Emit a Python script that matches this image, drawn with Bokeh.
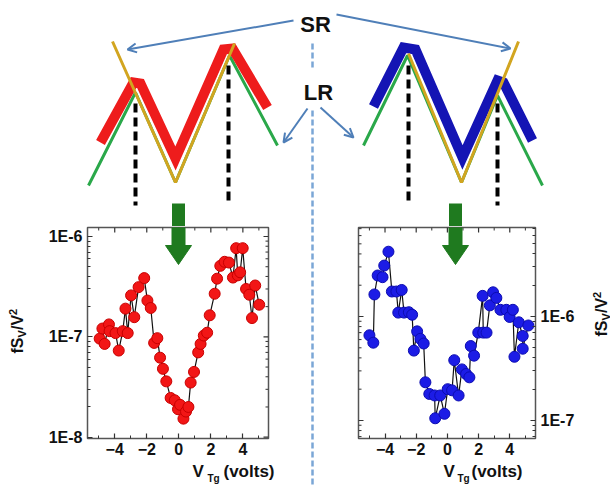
import math
from bokeh.plotting import figure
from bokeh.layouts import column, row
from bokeh.models import (Range1d, FixedTicker, CustomJSTickFormatter, LinearAxis,
                          LogAxis, Label, Arrow, OpenHead)
from bokeh.embed import file_html
from bokeh.resources import INLINE

# ---------------- data ----------------
red_v = [-4.94, -4.77, -4.63, -4.36, -4.32, -3.95, -3.75, -3.50, -3.33, -3.19,
         -2.98, -2.78, -2.51, -2.16, -1.96, -1.75, -1.54, -1.34, -1.17, -0.99,
         -0.78, -0.51, -0.25, -0.05, 0.08, 0.29, 0.45, 0.60, 0.74, 0.95,
         1.21, 1.36, 1.56, 1.77, 1.93, 2.24, 2.39, 2.59, 2.86, 3.13,
         3.38, 3.58, 3.68, 3.83, 3.99, 4.20, 4.40, 4.57, 4.77, 5.02]
red_s = [9.6e-8, 1.21e-7, 8.5e-8, 1.33e-7, 1.14e-7, 1.09e-7, 7.3e-8, 1.14e-7, 1.91e-7, 1.09e-7,
         2.59e-7, 1.57e-7, 3.13e-7, 3.85e-7, 2.3e-7, 1.94e-7, 8.7e-8, 9.7e-8, 6.2e-8, 4.8e-8,
         3.6e-8, 2.46e-8, 2.33e-8, 1.9e-8, 2.1e-8, 1.53e-8, 1.8e-8, 2.0e-8, 3.5e-8, 4.47e-8,
         7.0e-8, 8.5e-8, 1.03e-7, 1.1e-7, 1.64e-7, 2.69e-7, 3.8e-7, 5.1e-7, 5.6e-7, 5.5e-7,
         3.9e-7, 7.65e-7, 4.1e-7, 4.4e-7, 7.65e-7, 3.0e-7, 2.63e-7, 1.54e-7, 3.25e-7, 2.09e-7]

blue_v = [-5.00, -4.75, -4.68, -4.47, -4.16, -4.05, -3.78, -3.56, -3.27, -3.15,
          -2.93, -2.78, -2.47, -2.26, -2.15, -1.94, -1.73, -1.52, -1.41, -1.16,
          -0.82, -0.78, -0.46, -0.19, 0.02, 0.30, 0.44, 0.72, 0.93, 1.20,
          1.41, 1.50, 1.71, 1.98, 2.26, 2.30, 2.51, 2.72, 2.93, 3.14,
          3.40, 3.78, 3.99, 4.20, 4.30, 4.58, 4.83, 4.83, 5.19]
blue_s = [6.6e-7, 5.6e-7, 1.63e-6, 2.48e-6, 2.39e-6, 3.09e-6, 4.2e-6, 1.74e-6, 1.74e-6, 1.09e-6,
          1.8e-6, 1.09e-6, 1.1e-6, 1.04e-6, 4.7e-7, 7.2e-7, 6.1e-7, 5.5e-7, 2.33e-7, 1.8e-7,
          1.74e-7, 1.05e-7, 1.74e-7, 1.16e-7, 2.0e-7, 1.95e-7, 3.8e-7, 1.74e-7, 3.1e-7, 2.8e-7,
          2.6e-7, 5.2e-7, 4.2e-7, 7.0e-7, 1.58e-6, 7.0e-7, 7.0e-7, 1.28e-6, 1.71e-6, 1.51e-6,
          1.16e-6, 1.16e-6, 9.9e-7, 1.16e-6, 4.1e-7, 8.8e-7, 6.5e-7, 4.9e-7, 8.2e-7]

x_ticks = [-4, -2, 0, 2, 4]
x_minor = [-5, -3, -1, 1, 3, 5]
left_y_ticks = [1e-8, 1e-7, 1e-6]
right_y_ticks = [1e-7, 1e-6]
x_title = ["V", "Tg", "(volts)"]
y_title = ["fS", "V", "/V", "2"]

FONT = "Liberation Sans"
INK = "#111111"
TOP_H = 226          # schematic strip height
PLOT_BOTTOM = 463    # page y where the plot figures end
H = 485


def minor_log(lo, hi):
    out = []
    e = math.floor(math.log10(lo))
    while 10 ** e <= hi:
        for m in range(2, 10):
            v = m * 10 ** e
            if lo <= v <= hi:
                out.append(v)
        e += 1
    return out


class Geo:
    def __init__(self, L, R, T, B, xr, yr):
        self.L, self.R, self.T, self.B = L, R, T, B
        self.xr, self.yr = xr, yr

    def dx(self, px):
        return self.xr[0] + (px - self.L) / (self.R - self.L) * (self.xr[1] - self.xr[0])

    def dy(self, py):
        l0, l1 = math.log10(self.yr[0]), math.log10(self.yr[1])
        return 10 ** (l0 + (self.B - py) / (self.B - self.T) * (l1 - l0))


def blank(x0, x1, y0, y1):
    f = figure(frame_width=x1 - x0, frame_height=y1 - y0, x_range=Range1d(x0, x1),
               y_range=Range1d(y1, y0), x_axis_location=None, y_axis_location=None,
               output_backend="svg", toolbar_location=None, min_border_left=0,
               min_border_right=0, min_border_top=0, min_border_bottom=0,
               outline_line_color=None, background_fill_color="white",
               border_fill_color="white")
    f.grid.grid_line_color = None
    return f


def style_axis(ax):
    ax.axis_line_color = None
    ax.major_tick_in = 5
    ax.major_tick_out = 0
    ax.minor_tick_in = 3
    ax.minor_tick_out = 0
    ax.major_tick_line_color = "#333333"
    ax.minor_tick_line_color = "#333333"
    ax.major_tick_line_width = 1.2
    ax.minor_tick_line_width = 1
    ax.major_label_text_font = FONT
    ax.major_label_text_font_style = "bold"
    ax.major_label_text_font_size = "16px"
    ax.major_label_text_color = INK
    ax.major_label_standoff = 5


def make_plot(xs, ys, fill, edge, geo, fig_x0, fig_x1, yticks, yside, arrow_cx):
    p = figure(frame_width=geo.R - geo.L, frame_height=geo.B - geo.T,
               x_range=Range1d(*geo.xr), y_range=Range1d(*geo.yr),
               y_axis_type="log", x_axis_location=None, y_axis_location=None,
               output_backend="svg", toolbar_location=None,
               min_border_left=geo.L - fig_x0, min_border_right=fig_x1 - geo.R,
               min_border_top=geo.T - TOP_H, min_border_bottom=PLOT_BOTTOM - geo.B,
               outline_line_color="#555555", outline_line_width=1.5,
               background_fill_color="white", border_fill_color="white")
    p.grid.grid_line_color = None

    xa = LinearAxis(ticker=FixedTicker(ticks=x_ticks, minor_ticks=x_minor))
    style_axis(xa)
    xa.major_label_standoff = 4
    p.add_layout(xa, "below")

    ymin = minor_log(geo.yr[0], geo.yr[1])
    ya = LogAxis(ticker=FixedTicker(ticks=yticks, minor_ticks=ymin),
                 formatter=CustomJSTickFormatter(code='return "1E" + Math.round(Math.log10(tick));'))
    style_axis(ya)
    p.add_layout(ya, yside)

    # mirrored ticks on the opposite sides
    ytop = geo.yr[1]
    p.segment(x0=x_ticks, y0=[ytop] * len(x_ticks), x1=x_ticks,
              y1=[geo.dy(geo.T + 5)] * len(x_ticks), line_color="#333333", line_width=1.2)
    p.segment(x0=x_minor, y0=[ytop] * len(x_minor), x1=x_minor,
              y1=[geo.dy(geo.T + 3)] * len(x_minor), line_color="#333333", line_width=1)
    if yside == "left":
        xe, xm, xn = geo.xr[1], geo.dx(geo.R - 5), geo.dx(geo.R - 3)
    else:
        xe, xm, xn = geo.xr[0], geo.dx(geo.L + 5), geo.dx(geo.L + 3)
    p.segment(x0=[xe] * len(yticks), y0=yticks, x1=[xm] * len(yticks), y1=yticks,
              line_color="#333333", line_width=1.2)
    p.segment(x0=[xe] * len(ymin), y0=ymin, x1=[xn] * len(ymin), y1=ymin,
              line_color="#333333", line_width=1)

    # data
    p.line(xs, ys, line_color=INK, line_width=1.2)
    p.scatter(xs, ys, size=11, fill_color=fill, line_color=edge, line_width=1)

    # green arrow (lower part, continuing from the schematic)
    gx = [geo.dx(arrow_cx - 6.5), geo.dx(arrow_cx + 6.5), geo.dx(arrow_cx + 6.5),
          geo.dx(arrow_cx + 13), geo.dx(arrow_cx), geo.dx(arrow_cx - 13), geo.dx(arrow_cx - 6.5)]
    gy = [geo.yr[1], geo.yr[1], geo.dy(245), geo.dy(245), geo.dy(264), geo.dy(245), geo.dy(245)]
    p.patch(gx, gy, fill_color="#1f7a1f", line_color="#1f7a1f", line_width=1)
    return p


def x_title_strip(x0, x1, pos):
    f = blank(x0, x1, PLOT_BOTTOM, H)
    vx, tx, px_ = pos
    f.add_layout(Label(x=vx, y=471, text=x_title[0], text_font=FONT, text_font_style="bold",
                       text_font_size="17px", text_baseline="middle", text_align="left",
                       text_color=INK))
    f.add_layout(Label(x=tx, y=478, text=x_title[1], text_font=FONT, text_font_style="bold",
                       text_font_size="10px", text_baseline="middle", text_align="left",
                       text_color=INK))
    f.add_layout(Label(x=px_, y=471, text=x_title[2], text_font=FONT, text_font_style="bold",
                       text_font_size="17px", text_baseline="middle", text_align="left",
                       text_color=INK))
    return f


def y_title_strip(x0, x1, cx, bottom):
    f = blank(x0, x1, TOP_H, H)
    b = bottom
    parts = [(y_title[0], "16px", 0, 16), (y_title[1], "11px", 4, 7.5),
             (y_title[2], "16px", 0, 15), (y_title[3], "11px", -5, 6)]
    for txt, fs, off, ln in parts:
        f.add_layout(Label(x=cx + off, y=b, text=txt, angle=math.pi / 2,
                           text_font=FONT, text_font_style="bold", text_font_size=fs,
                           text_baseline="middle", text_align="left", text_color=INK))
        b -= ln
    return f


# page-pixel geometry of the two plot frames
geoL = Geo(87, 268, 227, 438, (-5.7, 5.6), (9.7e-9, 1.23e-6))
geoR = Geo(358, 535, 227, 438, (-5.7, 5.65), (6.71e-8, 7.18e-6))

left = make_plot(red_v, red_s, "#f21616", "#c80000", geoL, 30, 300,
                 left_y_ticks, "left", 178)
right = make_plot(blue_v, blue_s, "#1c1ce6", "#0c0cb0", geoR, 325, 585,
                  right_y_ticks, "right", 455)

# ---------------- schematic (top) ----------------
top = blank(0, 610, 0, TOP_H)

GOLD = "#d2a520"
GREEN = "#2aa84a"
RED = "#ee1c1c"
BLUE = "#1414b4"
ARROW = "#4f7fb8"

top.line([88, 135, 175, 229, 277], [185, 92, 182, 55, 145], line_color=GREEN, line_width=3)
top.line([100, 133, 140, 175, 223, 232, 267], [142, 82, 83, 158, 49, 48, 107],
         line_color=RED, line_width=10, line_join="miter")
top.line([112, 175, 234], [41, 182, 43], line_color=GOLD, line_width=3)

top.line([363, 407, 461, 497, 542], [145, 55, 182, 95, 185], line_color=GREEN, line_width=3)
top.line([373, 403, 415, 462, 497, 503, 532], [106, 47, 49, 157, 80, 82, 140],
         line_color=BLUE, line_width=10, line_join="miter")
top.line([408, 461, 518], [53, 182, 41], line_color=GOLD, line_width=3)

top.segment(x0=[135, 228, 408, 497], y0=[103, 65, 65, 103], x1=[135, 228, 408, 497],
            y1=[205, 205, 205, 205], line_color="black", line_width=4, line_dash="9 5")

top.segment(x0=[312, 312], y0=[43, 110], x1=[312, 312], y1=[68, TOP_H],
            line_color="#7aa6d6", line_width=2.5, line_dash="6 3")

top.quad(left=[178 - 6.5, 455 - 6.5], right=[178 + 6.5, 455 + 6.5], top=[203, 203],
         bottom=[TOP_H, TOP_H], fill_color="#1f7a1f", line_color=None)

for (xs_, ys_, xe_, ye_) in [(293, 20, 127, 49), (336, 14, 510, 48),
                             (307, 108, 283, 142), (320, 107, 353, 137)]:
    top.add_layout(Arrow(end=OpenHead(size=9, line_color=ARROW, line_width=2),
                         x_start=xs_, y_start=ys_, x_end=xe_, y_end=ye_,
                         line_color=ARROW, line_width=2))

top.add_layout(Label(x=315, y=24, text="SR", text_font=FONT, text_font_style="bold",
                     text_font_size="22px", text_align="center", text_baseline="middle",
                     text_color=INK))
top.add_layout(Label(x=318, y=92, text="LR", text_font=FONT, text_font_style="bold",
                     text_font_size="22px", text_align="center", text_baseline="middle",
                     text_color=INK))

# separator strip between the two plots
sep = blank(300, 325, TOP_H, H)
sep.segment(x0=[312], y0=[TOP_H], x1=[312], y1=[H], line_color="#7aa6d6",
            line_width=2.5, line_dash="6 3")

ylabL = y_title_strip(0, 30, 17, 353)
ylabR = y_title_strip(585, 610, 601, 336)
xlabL = x_title_strip(30, 300, (135, 150, 166))
xlabR = x_title_strip(325, 585, (410, 424, 438))

bottom = row(ylabL, column(left, xlabL, spacing=0), sep,
             column(right, xlabR, spacing=0), ylabR, spacing=0)
layout = column(top, bottom, spacing=0)
open("out.html", "w").write(file_html(layout, INLINE))
